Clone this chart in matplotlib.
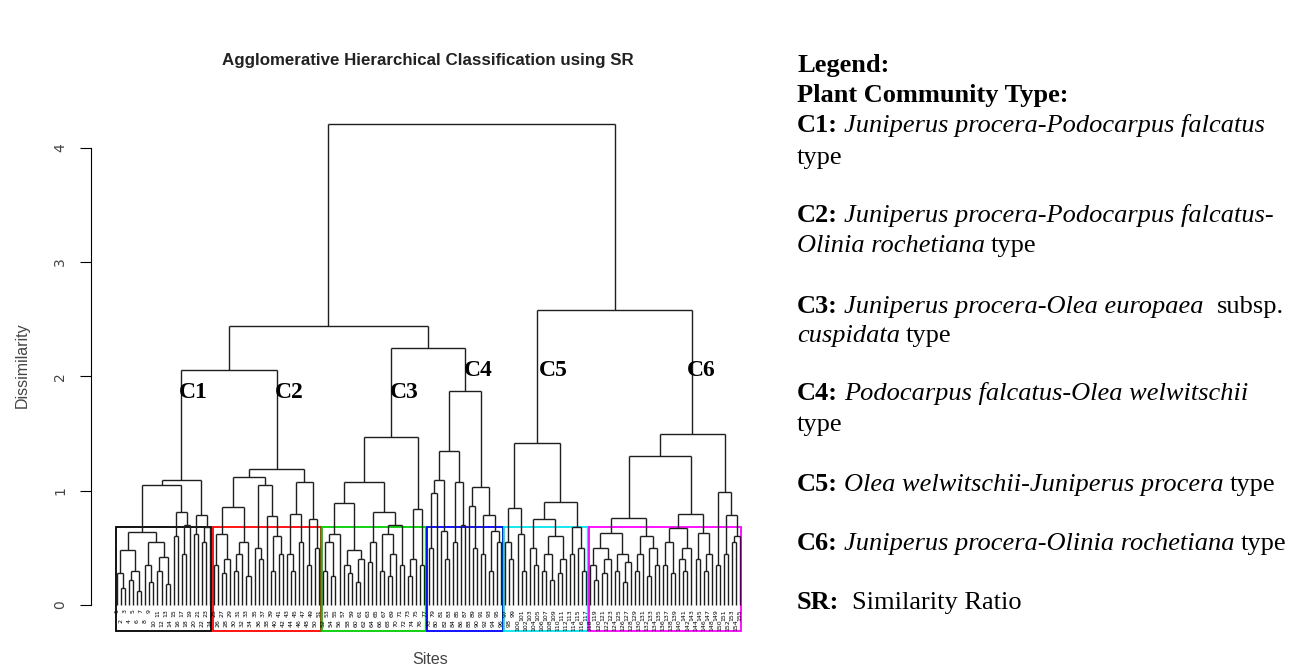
import matplotlib.pyplot as plt
from matplotlib.patches import Rectangle

# merge height between each pair of neighbouring sites, read left to right
c1_gaps = [0.28, 0.15, 0.48, 0.22, 0.30, 0.12, 0.64, 0.35, 0.20, 0.55, 0.30, 0.42, 0.18,
           1.05, 0.60, 0.81, 0.45, 0.70, 1.09, 0.62, 0.79, 0.55, 0.68]
c2_gaps = [0.35, 0.62, 0.28, 0.40, 0.86, 0.30, 0.45, 0.55, 0.25, 1.12,
           0.50, 0.40, 1.05, 0.78, 0.30, 0.60, 0.45, 1.19,
           0.45, 0.30, 0.80, 0.55, 1.08, 0.35, 0.75, 0.50]
c3_gaps = [0.30, 0.55, 0.25, 0.62, 0.89, 0.35, 0.28, 0.48, 0.20, 0.40, 1.08,
           0.38, 0.55, 0.81, 0.30, 0.62, 0.25, 0.45, 0.70, 0.35, 1.47,
           0.25, 0.40, 0.84, 0.35]
c4_gaps = [0.50, 0.98, 1.09, 0.65, 0.40, 1.35, 0.55, 1.08, 0.70, 1.87,
           0.87, 0.50, 1.03, 0.45, 0.79, 0.30, 0.65, 0.55]
c5_gaps = [0.55, 0.40, 0.85, 0.62, 0.30, 1.42,
           0.50, 0.35, 0.75, 0.30, 0.45, 0.22, 0.60, 0.28, 0.40, 0.90,
           0.45, 0.68, 0.50, 0.30]
c6_gaps = [0.35, 0.22, 0.50, 0.28, 0.40, 0.63, 0.30, 0.45, 0.20, 0.38, 0.76,
           0.30, 0.45, 0.60, 0.25, 0.50, 0.35, 1.30,
           0.35, 0.55, 0.28, 0.67, 0.40, 0.30, 0.50, 0.80,
           0.40, 0.63, 0.30, 0.45, 1.50,
           0.35, 0.99, 0.45, 0.79, 0.55, 0.60]
# merge heights between neighbouring communities C1|C2, C2|C3, C3|C4, C4|C5, C5|C6
between_gaps = [2.06, 2.44, 2.25, 4.21, 2.58]

communities = ['C1', 'C2', 'C3', 'C4', 'C5', 'C6']
box_colors = ['black', 'red', '#00cd00', 'blue', '#00e5ee', 'magenta']
box_top = 0.68

cluster_gaps = [c1_gaps, c2_gaps, c3_gaps, c4_gaps, c5_gaps, c6_gaps]
gaps = []
sizes = []
for k, g in enumerate(cluster_gaps):
    gaps += g
    sizes.append(len(g) + 1)
    if k < len(between_gaps):
        gaps.append(between_gaps[k])
n = len(gaps) + 1
site_labels = [str(i + 1) for i in range(n)]

W, H = 1308, 669
fig = plt.figure(figsize=(W / 100, H / 100), dpi=100)

# axes placed so that leaves run from x=117px to x=740px and 0..4 from y=605px to y=148px
px_leaf = 623 / (n - 1)
x0 = -(117 - 80) / px_leaf
x1 = x0 + 670 / px_leaf
ax = fig.add_axes([80 / W, (H - 632.4) / H, 670 / W, 524.6 / H])
ax.set_xlim(x0, x1)
ax.set_ylim(-0.24, 4.35)

vx, vy0, vy1 = [], [], []
hy, hx0, hx1 = [], [], []


def build(lo, hi):
    if lo == hi:
        return lo, 0.0
    seg = gaps[lo:hi]
    k = lo + seg.index(max(seg))
    xl, hl = build(lo, k)
    xr, hr = build(k + 1, hi)
    h = gaps[k]
    vx.extend([xl, xr]); vy0.extend([hl, hr]); vy1.extend([h, h])
    hy.append(h); hx0.append(xl); hx1.append(xr)
    return (xl + xr) / 2, h


build(0, n - 1)
ax.vlines(vx, vy0, vy1, color='#1e1e1e', lw=1.0)
ax.hlines(hy, hx0, hx1, color='#1e1e1e', lw=1.0)

# site labels, staggered in two rows under the leaves
for i, lab in enumerate(site_labels):
    ax.text(i, -0.035 if i % 2 == 0 else -0.125, lab, rotation=90, ha='center', va='top',
            fontsize=4.5, color='black')

start = 0
for size, col in zip(sizes, box_colors):
    ax.add_patch(Rectangle((start - 0.34, -0.225), size - 0.33, box_top + 0.225,
                           fill=False, edgecolor=col, lw=1.3, clip_on=False))
    start += size

for side in ['top', 'right', 'bottom']:
    ax.spines[side].set_visible(False)
ax.spines['left'].set_position(('data', x0 + 11 / px_leaf))
ax.spines['left'].set_bounds(0, 4)
ax.set_xticks([])
ax.set_yticks([0, 1, 2, 3, 4])
ax.tick_params(axis='y', length=8, pad=9, labelsize=10, labelcolor='#444444')
for t in ax.get_yticklabels():
    t.set_rotation(90)
    t.set_va('center')

sans = ['Liberation Sans', 'DejaVu Sans']
fig.text(428 / W, 1 - 60 / H, 'Agglomerative Hierarchical Classification using SR',
         ha='center', va='center', fontsize=12.2, fontweight='bold', family=sans, color='#222222')
fig.text(22 / W, 1 - 365 / H, 'Dissimilarity', rotation=90, ha='center', va='center',
         fontsize=11.5, family=sans, color='#444444')
fig.text(430 / W, 1 - 660 / H, 'Sites', ha='center', va='center', fontsize=11.5,
         family=sans, color='#444444')

label_pos = [(193, 393), (289, 393), (404, 393), (478, 371), (553, 371), (701, 371)]
for name, (px, py) in zip(communities, label_pos):
    fig.text(px / W, 1 - py / H, name, ha='center', va='center', fontsize=17,
             fontweight='bold', family='Liberation Serif')

legend_lines = [
    (65, [('Legend:', 'b', 0)]),
    (95, [('Plant Community Type:', 'b', 0)]),
    (125, [('C1:', 'b', 0), ('Juniperus procera-Podocarpus falcatus', 'i', 6)]),
    (157, [('type', 'n', 0)]),
    (215, [('C2:', 'b', 0), ('Juniperus procera-Podocarpus falcatus-', 'i', 6)]),
    (245, [('Olinia rochetiana', 'i', 0), ('type', 'n', 6)]),
    (306, [('C3:', 'b', 0), ('Juniperus procera-Olea europaea', 'i', 6), ('subsp.', 'n', 14)]),
    (335, [('cuspidata', 'i', 0), ('type', 'n', 6)]),
    (393, [('C4:', 'b', 0), ('Podocarpus falcatus-Olea welwitschii', 'i', 6)]),
    (424, [('type', 'n', 0)]),
    (484, [('C5:', 'b', 0), ('Olea welwitschii-Juniperus procera', 'i', 6), ('type', 'n', 6)]),
    (543, [('C6:', 'b', 0), ('Juniperus procera-Olinia rochetiana', 'i', 6), ('type', 'n', 6)]),
    (602, [('SR:', 'b', 0), ('Similarity Ratio', 'n', 13)]),
]
for y_px, pieces in legend_lines:
    prev = None
    for text, style, gap in pieces:
        kw = dict(fontsize=19, family='Liberation Serif',
                  fontweight='bold' if style == 'b' else 'normal',
                  fontstyle='italic' if style == 'i' else 'normal')
        if prev is None:
            prev = fig.text(797 / W, 1 - (y_px + 7) / H, text, ha='left', va='baseline', **kw)
        else:
            prev = ax.annotate(text, xy=(1, 0), xycoords=prev, xytext=(gap, 0),
                               textcoords='offset pixels', ha='left', va='bottom', **kw)

fig.savefig('out.png', dpi=100)
